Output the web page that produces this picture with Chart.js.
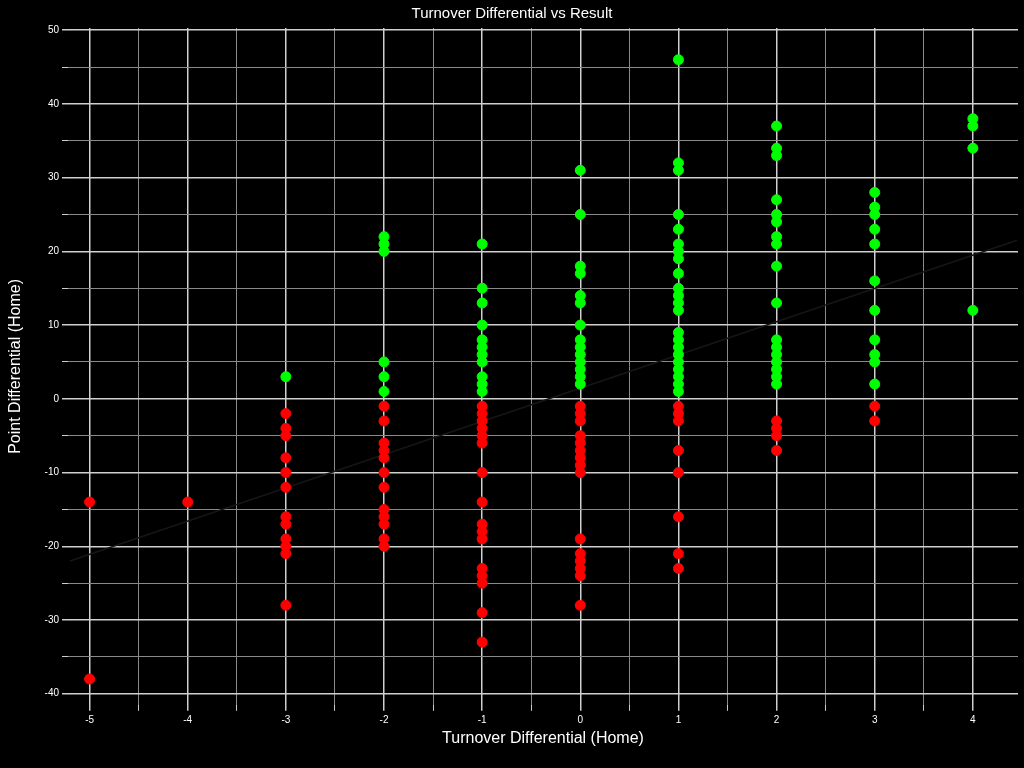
<!DOCTYPE html>
<html>
<head>
<meta charset="utf-8">
<script src="https://cdn.jsdelivr.net/npm/chart.js@4"></script>
<style>
  html,body{margin:0;padding:0;background:#000;}
</style>
</head>
<body>
<canvas id="c" width="1024" height="768"></canvas>
<script>
// turnover differential columns and point differential values
var turnovers=[-5,-4,-3,-2,-1,0,1,2,3,4];
var colM5=[-14,-38];
var colM4=[-14];
var colM3=[3,-2,-4,-5,-8,-10,-12,-16,-17,-19,-20,-21,-28];
var colM2=[22,21,20,5,3,1,-1,-3,-6,-7,-8,-10,-12,-15,-16,-17,-19,-20];
var colM1=[21,15,13,10,8,7,6,5,3,2,1,-1,-2,-3,-4,-5,-6,-10,-14,-17,-18,-19,-23,-24,-25,-29,-33];
var col0=[31,25,18,17,14,13,10,8,7,6,5,4,3,2,-1,-2,-3,-5,-6,-7,-8,-9,-10,-19,-21,-22,-23,-24,-28];
var colP1=[46,32,31,25,23,21,20,19,17,15,14,13,12,9,8,7,6,5,4,3,2,1,-1,-2,-3,-7,-10,-16,-21,-23];
var colP2=[37,34,33,27,25,24,22,21,18,13,8,7,6,5,4,3,2,-3,-4,-5,-7];
var colP3=[28,26,25,23,21,16,12,8,6,5,2,-1,-3];
var colP4=[38,37,34,12];
var columns=[colM5,colM4,colM3,colM2,colM1,col0,colP1,colP2,colP3,colP4];
// faint trend line, estimated ends
var trendX=[-5.2,4.45];
var trendY=[-22,21.5];

var wins=[],losses=[];
for(var i=0;i<turnovers.length;i++)
{
  for(var j=0;j<columns[i].length;j++)
  {
    var p={x:turnovers[i],y:columns[i][j]};
    if(p.y>0) wins.push(p); else losses.push(p);
  }
}

var font="'Liberation Sans', Arial, sans-serif";
new Chart(document.getElementById("c"),{
  type:'scatter',
  data:{
    datasets:[
      {type:'line',data:[{x:trendX[0],y:trendY[0]},{x:trendX[1],y:trendY[1]}],borderColor:'#161616',borderWidth:1.5,pointRadius:0,order:2},
      {data:losses,backgroundColor:'#ff0000',borderColor:'#ff0000',pointRadius:5,order:1},
      {data:wins,backgroundColor:'#00ff00',borderColor:'#00ff00',pointRadius:5,order:1}
    ]
  },
  options:{
    responsive:false,animation:false,
    devicePixelRatio:1,
    layout:{padding:{left:6,right:6,top:0,bottom:20}},
    plugins:{
      legend:{display:false},tooltip:{enabled:false},
      title:{display:true,text:'Turnover Differential vs Result',color:'#ffffff',font:{family:font,size:15,weight:'normal'},padding:{top:5,bottom:5}}
    },
    scales:{
      x:{
        type:'linear',min:-5.22,max:4.46,
        afterBuildTicks:function(s){var t=[];for(var v=-5;v<=4.01;v+=0.5)t.push({value:v});s.ticks=t;},
        ticks:{color:'#ffffff',font:{family:font,size:10},autoSkip:false,maxRotation:0,
          callback:function(v){return Number.isInteger(v)?String(v):'';}},
        grid:{color:function(c){return Number.isInteger(c.tick.value)?'#d0d0d0':'#8a8a8a';},lineWidth:function(c){return Number.isInteger(c.tick.value)?1.5:1;},drawTicks:true,tickLength:6,tickColor:'#cccccc'},
        border:{display:false},
        title:{display:true,text:'Turnover Differential (Home)',color:'#ffffff',font:{family:font,size:16},padding:{top:0,bottom:0}}
      },
      y:{
        type:'linear',min:-41.5,max:50.3,
        afterBuildTicks:function(s){var t=[];for(var v=-40;v<=50;v+=5)t.push({value:v});s.ticks=t;},
        afterFit:function(s){s.width=62;},
        ticks:{color:'#ffffff',font:{family:font,size:10},autoSkip:false,
          callback:function(v){return v%10===0?String(v):'';}},
        grid:{color:function(c){return c.tick.value%10===0?'#d0d0d0':'#8a8a8a';},lineWidth:function(c){return c.tick.value%10===0?1.5:1;},tickLength:6,tickColor:'#cccccc'},
        border:{display:false},
        title:{display:true,text:'Point Differential (Home)',color:'#ffffff',font:{family:font,size:16},padding:{top:0,bottom:4}}
      }
    }
  },
  plugins:[{id:'bg',beforeDraw:function(ch){var x=ch.ctx;x.save();x.fillStyle='#000';x.fillRect(0,0,ch.width,ch.height);x.restore();}}]
});
</script>
</body>
</html>
